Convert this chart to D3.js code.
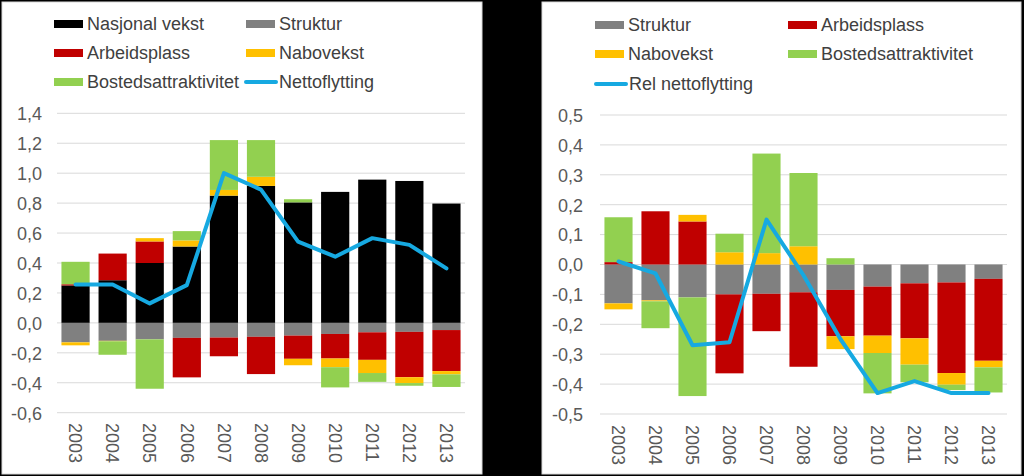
<!DOCTYPE html>
<html>
<head>
<meta charset="utf-8">
<script src="https://cdn.jsdelivr.net/npm/d3@7"></script>
<style>
html,body{margin:0;padding:0;background:#000;}
svg{display:block;font-family:"Liberation Sans",Arial,sans-serif;}
</style>
</head>
<body>
<svg id="chart" width="1024" height="476"></svg>
<script>
const years = ["2003","2004","2005","2006","2007","2008","2009","2010","2011","2012","2013"];
const nasjonal     = [0.25, 0.285, 0.40, 0.51, 0.85, 0.915, 0.805, 0.875, 0.957, 0.948, 0.797];
const struktur     = [-0.13, -0.12, -0.11, -0.10, -0.098, -0.093, -0.085, -0.074, -0.063, -0.06, -0.048];
const arbeidsplass = [0.008, 0.178, 0.144, -0.264, -0.125, -0.249, -0.155, -0.164, -0.184, -0.303, -0.274];
const nabovekst    = [-0.02, -0.003, 0.022, 0.041, 0.038, 0.061, -0.043, -0.058, -0.088, -0.039, -0.022];
const bosted       = [0.15, -0.09, -0.33, 0.062, 0.333, 0.245, 0.021, -0.135, -0.059, -0.018, -0.084];
const nettoflytting    = [0.257, 0.257, 0.13, 0.252, 1.0, 0.89, 0.543, 0.442, 0.566, 0.521, 0.364];
const relNettoflytting = [0.01, -0.03, -0.27, -0.26, 0.15, -0.036, -0.25, -0.43, -0.39, -0.43, -0.43];
const leftTicks  = [-0.6,-0.4,-0.2,0,0.2,0.4,0.6,0.8,1.0,1.2,1.4];
const rightTicks = [-0.5,-0.4,-0.3,-0.2,-0.1,0,0.1,0.2,0.3,0.4,0.5];

const series = {
  nasjonal: {name:"Nasjonal vekst", color:"#000000", values:nasjonal},
  struktur: {name:"Struktur", color:"#808080", values:struktur},
  arbeidsplass: {name:"Arbeidsplass", color:"#C00000", values:arbeidsplass},
  nabovekst: {name:"Nabovekst", color:"#FFC000", values:nabovekst},
  bosted: {name:"Bostedsattraktivitet", color:"#92D050", values:bosted}
};
const lineColor = "#16A9E1";
const textColor = "#595959";

const svg = d3.select("#chart");
svg.append("rect").attr("width",1024).attr("height",476).attr("fill","#000");

function panel(cfg){
  const g = svg.append("g");
  g.append("rect").attr("x",cfg.px).attr("y",2).attr("width",cfg.pw).attr("height",472)
    .attr("fill","#fff").attr("stroke","#d9d9d9").attr("stroke-width",1);

  const x = d3.scaleBand().domain(years).range(cfg.xr).paddingInner(0.24).paddingOuter(0.12);
  const y = d3.scaleLinear().domain(cfg.yd).range(cfg.yr);

  // gridlines
  g.append("g").selectAll("line").data(cfg.ticks).join("line")
    .attr("x1",cfg.xr[0]).attr("x2",cfg.xr[1])
    .attr("y1",d=>y(d)).attr("y2",d=>y(d))
    .attr("stroke","#d9d9d9").attr("stroke-width",1);

  // y axis labels
  const yAxis = d3.axisLeft(y).tickValues(cfg.ticks).tickSize(0).tickPadding(0)
    .tickFormat(d=>d3.format(cfg.fmt)(d).replace("−","-").replace(".",","));
  const ya = g.append("g").attr("transform",`translate(${cfg.ylx},0)`).call(yAxis);
  ya.select(".domain").remove();
  ya.selectAll("text").attr("fill",textColor).style("font-size","18px")
    .attr("font-family","Liberation Sans, Arial, sans-serif").attr("dy","0.35em");

  // stacked bars
  const rows = years.map((yr,i)=>{
    const o = {year:yr};
    cfg.keys.forEach(k=>o[k]=series[k].values[i]);
    return o;
  });
  const stack = d3.stack().keys(cfg.keys).offset(d3.stackOffsetDiverging)(rows);
  g.append("g").selectAll("g").data(stack).join("g")
    .attr("fill",d=>series[d.key].color)
    .selectAll("rect").data(d=>d).join("rect")
      .attr("x",d=>x(d.data.year))
      .attr("width",x.bandwidth())
      .attr("y",d=>y(Math.max(d[0],d[1])))
      .attr("height",d=>Math.abs(y(d[0])-y(d[1])));

  // line
  const line = d3.line().x((d,i)=>x(years[i])+x.bandwidth()/2).y(d=>y(d));
  g.append("path").datum(cfg.line).attr("d",line).attr("fill","none")
    .attr("stroke",lineColor).attr("stroke-width",4).attr("stroke-linejoin","round").attr("stroke-linecap","round");

  // x labels
  g.append("g").selectAll("text").data(years).join("text")
    .attr("transform",d=>`translate(${x(d)+x.bandwidth()/2},${cfg.xly}) rotate(90)`)
    .attr("dy","0.35em").attr("text-anchor","start")
    .attr("fill",textColor).style("font-size","18px").text(d=>d);

  // legend
  const lg = g.append("g");
  cfg.legend.forEach(it=>{
    if(it.type==="line"){
      lg.append("line").attr("x1",it.x+1).attr("x2",it.x+31).attr("y1",it.y).attr("y2",it.y)
        .attr("stroke",lineColor).attr("stroke-width",4).attr("stroke-linecap","round");
      lg.append("text").attr("x",it.x+34).attr("y",it.y).attr("dy","0.35em")
        .attr("fill","#404040").style("font-size","18px").text(it.name);
    } else {
      const s = series[it.key];
      lg.append("rect").attr("x",it.x).attr("y",it.y-4).attr("width",29).attr("height",8).attr("fill",s.color);
      lg.append("text").attr("x",it.x+33).attr("y",it.y).attr("dy","0.35em")
        .attr("fill","#404040").style("font-size","18px").text(s.name);
    }
  });
}

panel({
  px:2, pw:480, xr:[57,465], yd:[-0.6,1.4], yr:[412.7,113.3], ticks:leftTicks, fmt:".1f",
  ylx:42, xly:423, keys:["nasjonal","struktur","arbeidsplass","nabovekst","bosted"], line:nettoflytting,
  legend:[
    {key:"nasjonal", x:54, y:24},
    {key:"struktur", x:246, y:24},
    {key:"arbeidsplass", x:54, y:53},
    {key:"nabovekst", x:246, y:53},
    {key:"bosted", x:54, y:82},
    {type:"line", name:"Nettoflytting", x:245, y:82}
  ]
});

panel({
  px:542, pw:479, xr:[600,1007], yd:[-0.5,0.5], yr:[414,115], ticks:rightTicks, fmt:".1f",
  ylx:583, xly:425, keys:["struktur","arbeidsplass","nabovekst","bosted"], line:relNettoflytting,
  legend:[
    {key:"struktur", x:595, y:25},
    {key:"arbeidsplass", x:788, y:25},
    {key:"nabovekst", x:595, y:54},
    {key:"bosted", x:788, y:54},
    {type:"line", name:"Rel nettoflytting", x:595, y:84}
  ]
});
</script>
</body>
</html>
